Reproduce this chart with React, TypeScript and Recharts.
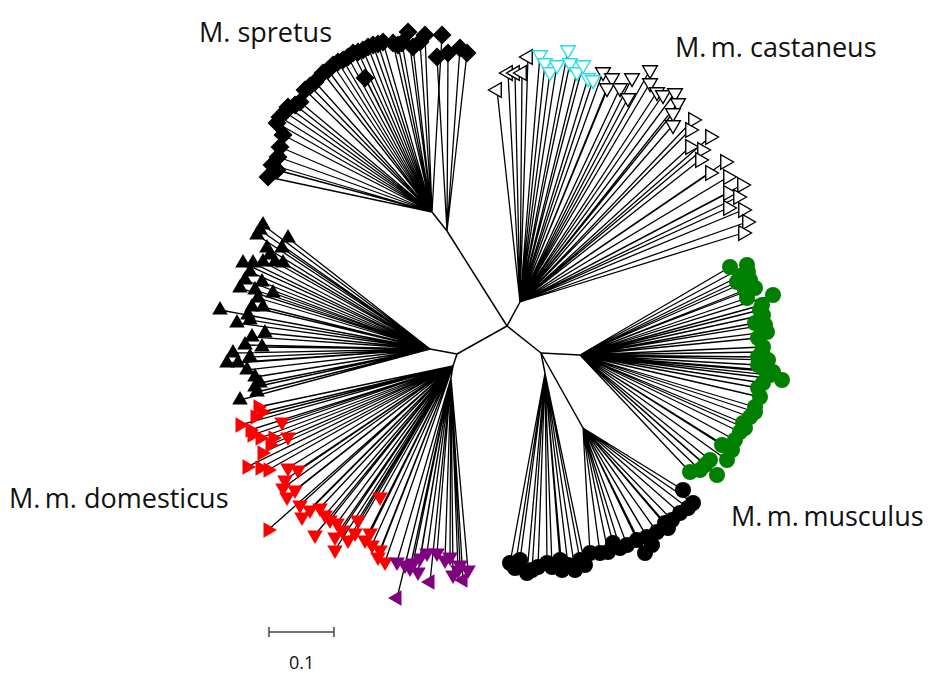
import React from "react";
import { ReferenceLine, Scatter, ScatterChart, XAxis, YAxis } from "recharts";

type Pt = [number, number];

// internal nodes of the tree (figure coordinates)
const hub: Pt = [507, 326];
const spretusNode: Pt = [432, 212];
const spretusNode2: Pt = [447, 231];
const castNode: Pt = [520, 302];
const domNode: Pt = [457, 354];
const domBlackNode: Pt = [430, 349];
const redNode: Pt = [453, 366];
const purpleNode: Pt = [451, 378];
const musNode: Pt = [541, 353];
const greenNode: Pt = [580, 355];
const musBlackNode: Pt = [545, 373];
const musBlackNode2: Pt = [583, 428];

const trunkEdges: [Pt, Pt][] = [
  [hub, spretusNode2],
  [spretusNode2, spretusNode],
  [hub, castNode],
  [hub, domNode],
  [domNode, domBlackNode],
  [domNode, redNode],
  [redNode, purpleNode],
  [hub, musNode],
  [musNode, greenNode],
  [musNode, musBlackNode],
  [musNode, musBlackNode2],
];

const spretusLeaves: Pt[] = [
  [268, 177], [272, 165], [277, 170], [278, 157], [280, 147], [283, 135], [277, 123],
  [280, 117], [285, 112], [288, 107], [295, 105], [300, 102], [305, 90], [310, 86],
  [315, 82], [323, 73], [328, 70], [333, 65], [338, 62], [343, 60], [348, 57], [353, 53],
  [358, 52], [363, 50], [368, 47], [373, 45], [378, 44], [383, 42], [393, 43], [398, 45],
  [402, 43], [413, 47], [365, 78], [408, 32], [425, 35], [442, 35], [420, 42],
];
const spretusLeaves2: Pt[] = [[437, 57], [448, 53], [460, 48], [467, 53]];

const castaneusLeaves: Pt[] = [
  [497, 90], [508, 73], [515, 73], [522, 73], [528, 57],
  [603, 72], [612, 78], [607, 88], [620, 88], [632, 78], [628, 98], [650, 70], [650, 83],
  [657, 92], [663, 95], [675, 93], [678, 103], [673, 113], [693, 120], [673, 125],
  [690, 130], [710, 137], [690, 147], [702, 150], [700, 160], [710, 173], [725, 162],
  [728, 177], [742, 185], [728, 193], [738, 197], [728, 208], [743, 210], [747, 222],
  [743, 233],
];
const castaneusCyan: Pt[] = [
  [540, 55], [545, 63], [550, 72], [557, 65], [568, 50], [570, 63], [577, 72],
  [583, 65], [588, 78], [593, 80],
];

const domBlackLeaves: Pt[] = [
  [263, 225], [260, 230], [257, 235], [288, 238], [267, 248], [282, 248], [270, 255],
  [243, 263], [253, 263], [263, 262], [275, 262], [283, 263], [250, 272], [245, 280],
  [240, 288], [262, 282], [255, 290], [273, 293], [258, 298], [220, 310], [252, 307],
  [263, 307], [248, 315], [237, 323], [250, 320], [252, 337], [265, 333], [245, 345],
  [262, 347], [233, 353], [250, 357], [227, 363], [238, 363], [247, 370], [255, 377],
  [260, 383], [255, 387], [257, 392], [240, 400],
];

const redLeaves: Pt[] = [
  [258, 407], [262, 412], [255, 417], [282, 422], [240, 425], [250, 430], [252, 435],
  [260, 438], [273, 438], [288, 437], [270, 445], [262, 453], [247, 467], [260, 468],
  [268, 470], [288, 468], [298, 470], [285, 480], [283, 488], [295, 490], [287, 497],
  [300, 505], [310, 510], [302, 517], [320, 508], [325, 515], [330, 520], [337, 523],
  [342, 530], [268, 530], [315, 535], [335, 537], [348, 540], [335, 550], [358, 520],
  [355, 533], [370, 533], [365, 540], [372, 545], [380, 550], [378, 557], [385, 562],
  [380, 497],
];

const purpleLeaves: Pt[] = [
  [397, 562], [405, 565], [410, 568], [413, 563], [420, 558], [418, 572], [427, 553],
  [437, 553], [445, 560], [450, 557], [458, 570], [460, 565], [468, 570], [453, 575],
  [463, 580], [430, 582], [397, 598],
];

const greenLeaves: Pt[] = [
  [730, 267], [747, 265], [748, 272], [740, 276], [750, 280], [737, 282], [755, 288],
  [745, 290], [747, 298], [773, 295], [762, 305], [760, 310], [763, 315], [755, 323],
  [765, 325], [767, 332], [758, 338], [763, 347], [762, 352], [758, 357], [768, 360],
  [758, 365], [765, 370], [770, 375], [773, 372], [782, 380], [763, 383], [758, 388],
  [760, 397], [755, 407], [755, 412], [750, 417], [743, 423], [745, 428], [740, 432],
  [735, 440], [722, 445], [732, 450], [727, 460], [710, 460], [705, 465], [700, 470],
  [690, 472], [717, 475],
];

const musBlackLeaves: Pt[] = [
  [510, 563], [515, 568], [520, 560], [527, 573], [532, 570], [538, 567], [547, 563],
  [552, 567], [560, 560], [562, 570], [568, 565], [575, 570], [580, 560], [585, 565],
];
const musBlackLeaves2: Pt[] = [
  [590, 553], [600, 553], [608, 552], [613, 543], [620, 548], [627, 545], [637, 540],
  [645, 553], [647, 537], [652, 545], [657, 532], [665, 523], [668, 528], [672, 520],
  [680, 513], [688, 508], [693, 503], [683, 490],
];

const cladeLabels = [
  { x: 199, y: 42, text: "M. spretus" },
  { x: 675, y: 57, text: "M.\u2009m. castaneus" },
  { x: 9, y: 508, text: "M.\u2009m. domesticus" },
  { x: 731, y: 526, text: "M.\u2009m.\u2009musculus" },
];
const scaleLabel = { x: 289, y: 669, text: "0.1" };

const toXY = (p: Pt) => ({ x: p[0], y: p[1] });
const fan = (node: Pt, leaves: Pt[]) => {
  const out: { x: number; y: number }[] = [];
  leaves.forEach((l) => {
    out.push(toXY(node));
    out.push(toXY(l));
  });
  return out;
};

const W = 934;
const H = 673;

function triPath(cx: number, cy: number, r: number, dir: "up" | "down" | "left" | "right") {
  const a = { up: -90, down: 90, left: 180, right: 0 }[dir];
  const pts = [0, 120, 240].map((d) => {
    const t = ((a + d) * Math.PI) / 180;
    return `${cx + r * Math.cos(t)},${cy + r * Math.sin(t)}`;
  });
  return `M${pts.join("L")}Z`;
}

const Diamond = (p: any) => {
  const { cx, cy } = p;
  const r = 9.5;
  return <path d={`M${cx},${cy - r}L${cx + r},${cy}L${cx},${cy + r}L${cx - r},${cy}Z`} fill="#000" />;
};
const Dot = (color: string) => (p: any) => <circle cx={p.cx} cy={p.cy} r={8} fill={color} />;
const CastTri = (stroke: string) => (p: any) => {
  const x = p.payload.x;
  const dir = x < 532 ? "left" : x < 690 ? "down" : "right";
  return <path d={triPath(p.cx, p.cy, 8.5, dir)} fill="#fff" stroke={stroke} strokeWidth={1.4} />;
};
const DomTri = (p: any) => <path d={triPath(p.cx, p.cy, 9, "up")} fill="#000" />;
const RedTri = (p: any) => {
  const dir = p.payload.x < 275 ? "right" : "down";
  return <path d={triPath(p.cx, p.cy, 9, dir)} fill="#ff0000" />;
};
const PurpleTri = (p: any) => {
  const dir = p.payload.y > 576 ? "left" : "down";
  return <path d={triPath(p.cx, p.cy, 9, dir)} fill="#800080" />;
};
const Hidden = () => <g />;
const TextShape = (size: number) => (p: any) => (
  <text x={p.cx} y={p.cy} fontSize={size} fontFamily="'Open Sans', 'Noto Sans', sans-serif" fill="#111">
    {p.payload.text}
  </text>
);

const branchFans: [Pt, Pt[]][] = [
  [spretusNode, spretusLeaves],
  [spretusNode2, spretusLeaves2],
  [castNode, castaneusLeaves],
  [castNode, castaneusCyan],
  [domBlackNode, domBlackLeaves],
  [redNode, redLeaves],
  [purpleNode, purpleLeaves],
  [greenNode, greenLeaves],
  [musBlackNode, musBlackLeaves],
  [musBlackNode2, musBlackLeaves2],
];

export default function App() {
  return (
    <div style={{ position: "absolute", left: 0, top: 0, background: "#fff" }}>
      <ScatterChart width={W} height={H} margin={{ top: 0, right: 0, bottom: 0, left: 0 }}>
        <XAxis type="number" dataKey="x" domain={[0, W]} hide />
        <YAxis type="number" dataKey="y" domain={[0, H]} reversed hide />
        {trunkEdges.map(([a, b], i) => (
          <ReferenceLine key={`t${i}`} segment={[toXY(a), toXY(b)]} stroke="#000" strokeWidth={1.5} />
        ))}
        {branchFans.map(([node, leaves], i) => (
          <Scatter
            key={`f${i}`}
            data={fan(node, leaves)}
            line={{ stroke: "#000", strokeWidth: 1.3 }}
            lineType="joint"
            shape={Hidden}
            isAnimationActive={false}
          />
        ))}
        <Scatter data={[...spretusLeaves, ...spretusLeaves2].map(toXY)} shape={Diamond} isAnimationActive={false} />
        <Scatter data={castaneusLeaves.map(toXY)} shape={CastTri("#000")} isAnimationActive={false} />
        <Scatter data={castaneusCyan.map(toXY)} shape={CastTri("#22ddee")} isAnimationActive={false} />
        <Scatter data={domBlackLeaves.map(toXY)} shape={DomTri} isAnimationActive={false} />
        <Scatter data={redLeaves.map(toXY)} shape={RedTri} isAnimationActive={false} />
        <Scatter data={purpleLeaves.map(toXY)} shape={PurpleTri} isAnimationActive={false} />
        <Scatter data={greenLeaves.map(toXY)} shape={Dot("#008000")} isAnimationActive={false} />
        <Scatter data={[...musBlackLeaves, ...musBlackLeaves2].map(toXY)} shape={Dot("#000")} isAnimationActive={false} />
        <ReferenceLine segment={[{ x: 269, y: 632 }, { x: 334, y: 632 }]} stroke="#444" strokeWidth={1.5} />
        <ReferenceLine segment={[{ x: 269, y: 627 }, { x: 269, y: 637 }]} stroke="#444" strokeWidth={1.5} />
        <ReferenceLine segment={[{ x: 334, y: 627 }, { x: 334, y: 637 }]} stroke="#444" strokeWidth={1.5} />
        <Scatter data={cladeLabels} shape={TextShape(27)} isAnimationActive={false} />
        <Scatter data={[scaleLabel]} shape={TextShape(18)} isAnimationActive={false} />
      </ScatterChart>
    </div>
  );
}
